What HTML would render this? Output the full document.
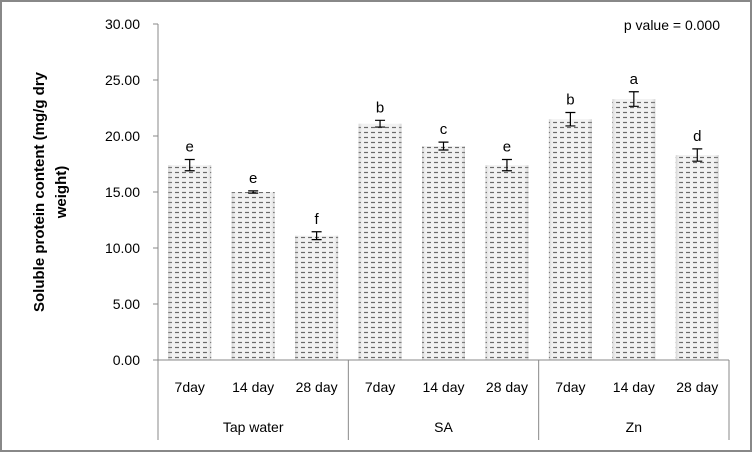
<!DOCTYPE html>
<html><head><meta charset="utf-8"><style>
body{margin:0;background:#fff;}
svg text{font-family:"Liberation Sans",sans-serif;fill:#000;}
</style></head><body>
<svg width="752" height="452">
<defs>
<pattern id="dash" width="7" height="5" patternUnits="userSpaceOnUse">
<rect width="7" height="5" fill="#f2f2f2"/>
<line x1="0" y1="2.5" x2="4" y2="2.5" stroke="#6a6a6a" stroke-width="1.2"/>
</pattern>
<linearGradient id="edge" x1="0" x2="1">
<stop offset="0" stop-color="#999" stop-opacity="0.35"/><stop offset="0.12" stop-color="#fff" stop-opacity="0"/>
<stop offset="0.88" stop-color="#fff" stop-opacity="0"/><stop offset="1" stop-color="#999" stop-opacity="0.35"/>
</linearGradient>
</defs>
<rect x="1" y="1" width="750" height="450" fill="#fff" stroke="#888" stroke-width="2"/>
<g id="plot"></g>
<text x="720" y="30" font-size="14" text-anchor="end">p value = 0.000</text>
<text transform="translate(50,192) rotate(-90)" font-size="15" font-weight="bold" text-anchor="middle"><tspan x="0" dy="-6">Soluble protein content (mg/g dry</tspan><tspan x="0" dy="22">weight)</tspan></text>
<script>
const groups=["Tap water","SA","Zn"];
const days=["7day","14 day","28 day"];
const values=[17.4,15.0,11.1,21.1,19.1,17.4,21.5,23.3,18.3];
const errors=[0.5,0.1,0.35,0.3,0.35,0.5,0.6,0.65,0.55];
const letters=["e","e","f","b","c","e","b","a","d"];
const yTicks=[0,5,10,15,20,25,30];
const x0=158,x1=729,y0=360,y1=24,yMax=30;
const n=values.length,cw=(x1-x0)/n;
const y=v=>y0-(v/yMax)*(y0-y1);
const xc=i=>x0+cw*(i+0.5);
const g=document.getElementById('plot');
const NS="http://www.w3.org/2000/svg";
function mk(t,a,p){const e=document.createElementNS(NS,t);for(const k in a)e.setAttribute(k,a[k]);(p||g).appendChild(e);return e;}
let e;
yTicks.forEach(t=>{
e=mk('text',{x:140,y:y(t)+5,'font-size':14,'text-anchor':'end'});e.textContent=t.toFixed(2);


e=mk('line',{x1:153,x2:158,y1:y(t),y2:y(t),stroke:'#888'});


});
values.forEach((v,i)=>{
const bw=43,bx=xc(i)-bw/2;
e=mk('rect',{x:bx,y:y(v),width:bw,height:y0-y(v),fill:'url(#dash)'});


mk('rect',{x:bx,y:y(v),width:bw,height:y0-y(v),fill:'url(#edge)'});
const cx=xc(i),t=y(v+errors[i]),b=y(v-errors[i]);
e=mk('path',{d:`M${cx},${t}V${b}M${cx-5},${t}H${cx+5}M${cx-5},${b}H${cx+5}`,stroke:'#000','stroke-width':1.2,fill:'none'});


e=mk('text',{x:cx,y:t-8,'font-size':15,'text-anchor':'middle'});e.textContent=letters[i];


e=mk('text',{x:cx,y:392,'font-size':14,'text-anchor':'middle'});e.textContent=days[i%3];


});
groups.forEach((gname,k)=>{
const gx=x0+cw*3*k;
e=mk('text',{x:gx+cw*1.5,y:432,'font-size':14,'text-anchor':'middle'});e.textContent=gname;


mk('line',{x1:gx,x2:gx,y1:360,y2:440,stroke:'#888'});
});
mk('line',{x1:x1,x2:x1,y1:360,y2:440,stroke:'#888'});
e=mk('line',{x1:x0,x2:x0,y1:y1,y2:y0,stroke:'#888'});


e=mk('line',{x1:x0,x2:x1,y1:y0,y2:y0,stroke:'#888'});


</script>
</svg>
</body></html>
